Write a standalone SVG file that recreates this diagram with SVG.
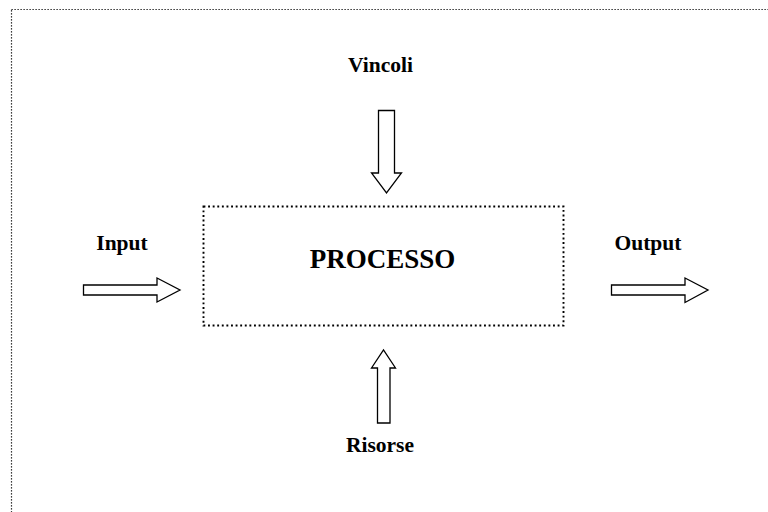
<svg xmlns="http://www.w3.org/2000/svg" width="768" height="512" viewBox="0 0 768 512">
  <style>
    .frame { fill: none; stroke: #000; stroke-width: 1.2; stroke-dasharray: 1.2 1.8; }
    .box { fill: #fff; stroke: #000; stroke-width: 1.9; stroke-dasharray: 1.9 2.7; }
    .arrow { fill: #fff; stroke: #000; stroke-width: 1.3; stroke-linejoin: miter; }
    .label { font-family: "Liberation Serif", "DejaVu Serif", serif; font-weight: bold; font-size: 21.5px; fill: #000; text-anchor: middle; }
    .title { font-size: 27px; }
  </style>
  <rect width="768" height="512" fill="#fff"/>
  <!-- outer dotted frame, running past the right and bottom edges -->
  <rect class="frame" x="11.5" y="9.5" width="780" height="520"/>

  <g id="processo">
    <rect class="box" x="203.5" y="206.5" width="360" height="119"/>
    <text class="label title" x="382.5" y="268">PROCESSO</text>
  </g>

  <g id="vincoli">
    <text class="label" x="380.5" y="72">Vincoli</text>
  </g>
  <g id="input">
    <text class="label" x="122" y="250">Input</text>
  </g>
  <g id="output">
    <text class="label" x="648" y="250">Output</text>
  </g>
  <g id="risorse">
    <text class="label" x="380" y="452">Risorse</text>
  </g>

  <g id="connectors">
    <!-- Vincoli -> Processo -->
    <polygon class="arrow" points="378.5,110.5 394.5,110.5 394.5,173 401.5,173 386.5,193 371.5,173 378.5,173"/>
    <!-- Risorse -> Processo -->
    <polygon class="arrow" points="377.5,423 390,423 390,368 395.5,368 383.5,350 371.5,368 377.5,368"/>
    <!-- Input -> Processo -->
    <polygon class="arrow" points="83.5,285 157,285 157,278 180,290 157,302 157,295 83.5,295"/>
    <!-- Processo -> Output -->
    <polygon class="arrow" points="611.5,285 685,285 685,278 708,290 685,302.5 685,295 611.5,295"/>
  </g>
</svg>
